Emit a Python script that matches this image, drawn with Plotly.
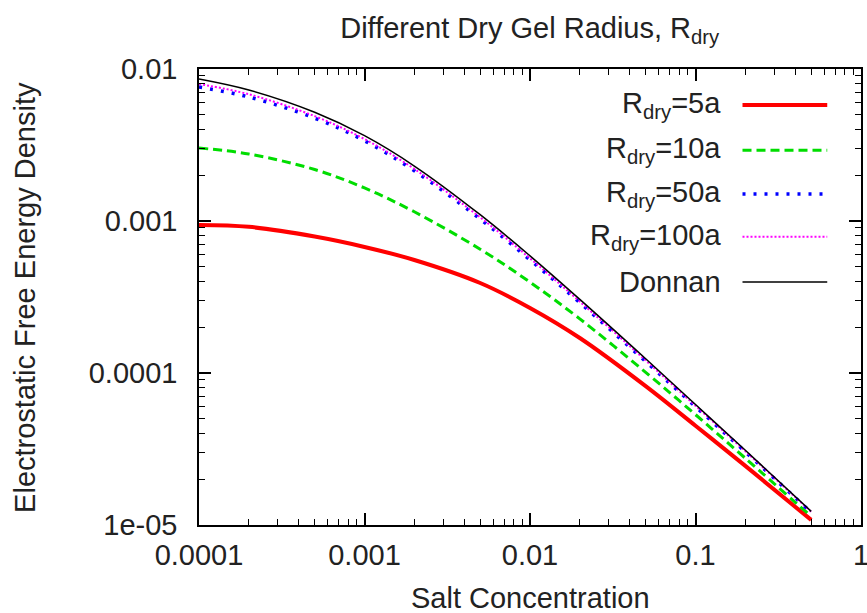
import plotly.graph_objects as go

# ---- data ----
salt = [1e-4, 2e-4, 5e-4, 1e-3, 2e-3, 5e-3, 0.01, 0.02, 0.05, 0.1, 0.2, 0.5]

r5 = [0.000941, 0.000915, 0.000790, 0.000675, 0.000554, 0.000391,
      0.000268, 0.000170, 8.2e-5, 4.5e-5, 2.45e-5, 1.08e-5]
r10 = [0.00302, 0.00276, 0.00218, 0.00165, 0.00115, 0.000652,
       0.000396, 0.000227, 0.000101, 5.32e-5, 2.75e-5, 1.14e-5]
r50 = [0.00761, 0.00654, 0.00475, 0.00337, 0.00214, 0.00103,
       0.000555, 0.000290, 0.000119, 6.01e-5, 3.03e-5, 1.21e-5]
r100 = [0.00797, 0.00682, 0.00490, 0.00346, 0.00220, 0.001056,
        0.000568, 0.000295, 0.000121, 6.09e-5, 3.06e-5, 1.22e-5]
donnan = [0.00859, 0.00727, 0.00519, 0.00364, 0.00230, 0.00110,
          0.000590, 0.000305, 0.000124, 6.2e-5, 3.1e-5, 1.23e-5]

series_names = ["R<sub>dry</sub>=5a", "R<sub>dry</sub>=10a", "R<sub>dry</sub>=50a",
                "R<sub>dry</sub>=100a", "Donnan"]
series_values = [r5, r10, r50, r100, donnan]
series_colors = ["#ff0000", "#00dd00", "#0000ff", "#ff00ff", "#000000"]
series_widths = [4, 3, 3.5, 2, 1.5]
series_dash = ["solid", "9px,5px", "3px,8px", "2px,2px", "solid"]

x_tickvals = [1e-4, 1e-3, 1e-2, 1e-1, 1]
x_ticktext = ["0.0001", "0.001", "0.01", "0.1", "1"]
y_tickvals = [1e-5, 1e-4, 1e-3, 1e-2]
y_ticktext = ["1e-05", "0.0001", "0.001", "0.01"]

FONT = "Liberation Sans, Arial, Helvetica, sans-serif"
TXT = "#222222"
FS = 29

fig = go.Figure()
for name, vals, col, w, d in zip(series_names, series_values, series_colors,
                                  series_widths, series_dash):
    fig.add_trace(go.Scatter(x=salt, y=vals, mode="lines", name=name,
                             line=dict(color=col, width=w, dash=d, shape="spline"),
                             showlegend=False))

# gnuplot-style legend: text right-aligned, sample line on the right
leg_y = [0.921, 0.822, 0.726, 0.632, 0.533]
for name, col, w, d, yy in zip(series_names, series_colors, series_widths,
                                series_dash, leg_y):
    fig.add_annotation(xref="paper", yref="paper", x=0.7915, y=yy, text=name,
                       showarrow=False, xanchor="right", yanchor="middle",
                       font=dict(family=FONT, size=FS, color=TXT))
    fig.add_shape(type="line", xref="paper", yref="paper",
                  x0=0.821, x1=0.949, y0=yy, y1=yy,
                  line=dict(color=col, width=w, dash=d))

# axis titles
fig.add_annotation(xref="paper", yref="paper", x=0.5, y=-0.160,
                   text="Salt Concentration", showarrow=False,
                   xanchor="center", yanchor="middle",
                   font=dict(family=FONT, size=FS, color=TXT))
fig.add_annotation(xref="paper", yref="paper", x=-0.263, y=0.5,
                   text="Electrostatic Free Energy Density", showarrow=False,
                   textangle=-90, xanchor="center", yanchor="middle",
                   font=dict(family=FONT, size=FS, color=TXT))

minor_vals = [m * 10 ** e for e in range(-5, 1) for m in range(2, 10)]

axis_common = dict(
    type="log", showgrid=False, zeroline=False, showline=True,
    linecolor="black", linewidth=1.5, mirror="allticks", automargin=False,
    ticks="inside", ticklen=12, tickwidth=1.5, tickcolor="black",
    ticklabeloverflow="allow",
    tickfont=dict(family=FONT, size=FS, color=TXT),
    minor=dict(ticks="inside", ticklen=6, tickwidth=1.2, tickcolor="black",
               tickvals=minor_vals, showgrid=False),
)

fig.update_xaxes(**axis_common, range=[-4, 0], tickvals=x_tickvals,
                 ticktext=x_ticktext, ticklabelstandoff=3)
fig.update_yaxes(**axis_common, range=[-5, -2], tickvals=y_tickvals,
                 ticktext=y_ticktext, ticklabelstandoff=14)

fig.update_layout(
    width=867, height=613,
    margin=dict(l=199, r=6, t=69, b=88),
    paper_bgcolor="white", plot_bgcolor="white",
    title=dict(text="Different Dry Gel Radius, R<sub>dry</sub>",
               x=0.611, xanchor="center", y=0.954, yanchor="middle",
               font=dict(family=FONT, size=FS, color=TXT)),
)

fig.write_html("out.html",
               config={"displayModeBar": False},
               post_script="document.body.style.margin='0';"
                           "document.body.style.overflow='hidden';")
